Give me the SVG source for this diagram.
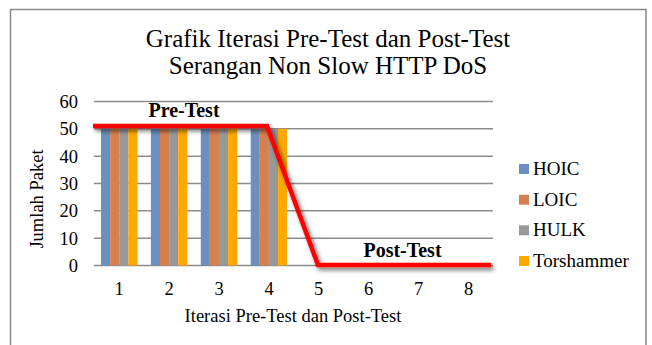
<svg xmlns="http://www.w3.org/2000/svg" width="652" height="345" viewBox="0 0 652 345">
<style>
.t{font-family:"Liberation Serif","Times New Roman",serif;fill:#000}
.title{font-size:25px;text-anchor:middle}
.ax{font-size:18.5px}
.tick{font-size:18.5px;text-anchor:middle}
.ylab{font-size:18.5px;text-anchor:end}
.lg{font-size:19px}
.lbl{font-size:20px;font-weight:bold;text-anchor:middle}
.grid{stroke:#8c8c8c;stroke-width:1.4}
.hoic{fill:#6B8FBE}.loic{fill:#D6804F}.hulk{fill:#999999}.tor{fill:#FFA800}
</style>
<defs>
<filter id="sh" x="-10%" y="-10%" width="130%" height="130%">
<feDropShadow dx="2.5" dy="3" stdDeviation="2" flood-color="#000" flood-opacity="0.55"/>
</filter>
</defs>
<rect x="0" y="0" width="652" height="345" fill="#fff"/>
<rect x="10.5" y="9.5" width="635.5" height="345" fill="#fff" stroke="#8a8a8a" stroke-width="1.5"/>

<g id="title">
<text class="t title" x="328" y="47">Grafik Iterasi Pre-Test dan Post-Test</text>
<text class="t title" x="328" y="74">Serangan Non Slow HTTP DoS</text>
</g>

<g id="gridlines">
<line class="grid" x1="94" y1="101.5" x2="493" y2="101.5"/>
<line class="grid" x1="94" y1="128.8" x2="493" y2="128.8"/>
<line class="grid" x1="94" y1="156.2" x2="493" y2="156.2"/>
<line class="grid" x1="94" y1="183.5" x2="493" y2="183.5"/>
<line class="grid" x1="94" y1="210.8" x2="493" y2="210.8"/>
<line class="grid" x1="94" y1="238.2" x2="493" y2="238.2"/>
<line class="grid" x1="94" y1="265.5" x2="493" y2="265.5"/>
</g>

<g id="y-axis">
<text class="t ylab" x="78" y="108">60</text>
<text class="t ylab" x="78" y="135.3">50</text>
<text class="t ylab" x="78" y="162.7">40</text>
<text class="t ylab" x="78" y="190">30</text>
<text class="t ylab" x="78" y="217.3">20</text>
<text class="t ylab" x="78" y="244.7">10</text>
<text class="t ylab" x="78" y="272">0</text>
<text class="t ax" text-anchor="middle" transform="translate(43,199) rotate(-90)">Jumlah Paket</text>
</g>

<g id="bars">
<rect class="hoic" x="101" y="128.8" width="9.1" height="136.7"/>
<rect class="loic" x="110.1" y="128.8" width="9.1" height="136.7"/>
<rect class="hulk" x="119.2" y="128.8" width="9.1" height="136.7"/>
<rect class="tor" x="128.3" y="128.8" width="9.1" height="136.7"/>
<rect class="hoic" x="150.9" y="128.8" width="9.1" height="136.7"/>
<rect class="loic" x="160" y="128.8" width="9.1" height="136.7"/>
<rect class="hulk" x="169.1" y="128.8" width="9.1" height="136.7"/>
<rect class="tor" x="178.2" y="128.8" width="9.1" height="136.7"/>
<rect class="hoic" x="200.8" y="128.8" width="9.1" height="136.7"/>
<rect class="loic" x="209.9" y="128.8" width="9.1" height="136.7"/>
<rect class="hulk" x="219" y="128.8" width="9.1" height="136.7"/>
<rect class="tor" x="228.1" y="128.8" width="9.1" height="136.7"/>
<rect class="hoic" x="250.7" y="128.8" width="9.1" height="136.7"/>
<rect class="loic" x="259.8" y="128.8" width="9.1" height="136.7"/>
<rect class="hulk" x="268.9" y="128.8" width="9.1" height="136.7"/>
<rect class="tor" x="278" y="128.8" width="9.1" height="136.7"/>
</g>

<g id="x-axis">
<text class="t tick" x="119" y="295">1</text>
<text class="t tick" x="169" y="295">2</text>
<text class="t tick" x="219" y="295">3</text>
<text class="t tick" x="269" y="295">4</text>
<text class="t tick" x="318.5" y="295">5</text>
<text class="t tick" x="368.5" y="295">6</text>
<text class="t tick" x="418.5" y="295">7</text>
<text class="t tick" x="468.5" y="295">8</text>
<text class="t ax" text-anchor="middle" x="293" y="322">Iterasi Pre-Test dan Post-Test</text>
</g>

<g id="trend-line">
<polyline points="93,126 267,126 318,265 491,265" fill="none" stroke="#FF0000" stroke-width="4.5" stroke-linejoin="miter" filter="url(#sh)"/>
</g>

<g id="labels">
<text class="t lbl" x="184" y="117">Pre-Test</text>
<text class="t lbl" x="402.5" y="257">Post-Test</text>
</g>

<g id="legend">
<rect class="hoic" x="519" y="164" width="10" height="10"/>
<text class="t lg" x="533" y="175">HOIC</text>
<rect class="loic" x="519" y="194.7" width="10" height="10"/>
<text class="t lg" x="533" y="205.7">LOIC</text>
<rect class="hulk" x="519" y="225.3" width="10" height="10"/>
<text class="t lg" x="533" y="236.3">HULK</text>
<rect class="tor" x="519" y="256" width="10" height="10"/>
<text class="t lg" x="533" y="267">Torshammer</text>
</g>
</svg>
